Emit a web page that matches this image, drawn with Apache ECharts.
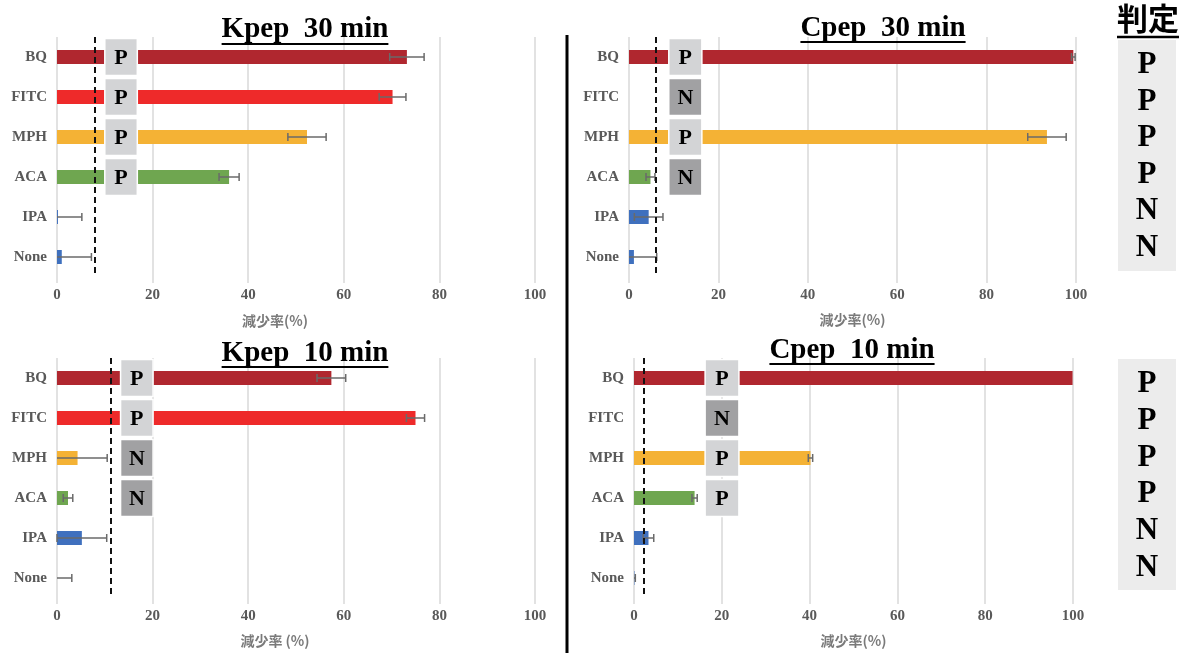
<!DOCTYPE html>
<html>
<head>
<meta charset="utf-8">
<script src="https://cdn.jsdelivr.net/npm/echarts@6/dist/echarts.min.js"></script>
<style>
  html, body { margin: 0; padding: 0; background: #ffffff; }
  #chart { width: 1183px; height: 653px; }
</style>
</head>
<body>
<div id="chart"></div>
<script>
// ---- data ----
const categories = ['BQ', 'FITC', 'MPH', 'ACA', 'IPA', 'None'];
const xTicks = [0, 20, 40, 60, 80, 100];
const axisName = ['減少率(%)', '減少率(%)', '減少率 (%)', '減少率(%)'];
const panelTitles = ['Kpep  30 min', 'Cpep  30 min', 'Kpep  10 min', 'Cpep  10 min'];

const kpep30 = [73.2, 70.2, 52.3, 36.0, 0.2, 1.0];
const kpep30Err = [3.6, 2.8, 4.0, 2.1, 5.0, 6.2];
const cpep30 = [99.4, 0, 93.5, 4.8, 4.4, 1.1];
const cpep30Err = [0.4, 0, 4.3, 1.0, 3.2, 5.1];
const kpep10 = [57.4, 75.0, 4.3, 2.3, 5.2, 0];
const kpep10Err = [3.0, 1.9, 6.2, 1.0, 5.2, 3.1];
const cpep10 = [99.9, 0, 40.2, 13.8, 3.3, 0.1];
const cpep10Err = [0, 0, 0.5, 0.6, 1.2, 0.2];

const thresholds = [8.0, 5.9, 11.3, 2.3];

const kpep30Calls = ['P', 'P', 'P', 'P'];
const cpep30Calls = ['P', 'N', 'P', 'N'];
const kpep10Calls = ['P', 'P', 'N', 'N'];
const cpep10Calls = ['P', 'N', 'P', 'P'];

const judgeLabel = '判定';
const judge30 = ['P', 'P', 'P', 'P', 'N', 'N'];
const judge10 = ['P', 'P', 'P', 'P', 'N', 'N'];

// ---- styling / layout ----
const catColors = ['#B0272F', '#EE2A2A', '#F4B235', '#6FA650', '#3F70BE', '#3F70BE'];
const SERIF = '"Liberation Serif", "Times New Roman", serif';
const CJK = '"Noto Sans CJK JP", "Noto Sans CJK SC", sans-serif';

const panels = [
  { values: kpep30, errs: kpep30Err, calls: kpep30Calls },
  { values: cpep30, errs: cpep30Err, calls: cpep30Calls },
  { values: kpep10, errs: kpep10Err, calls: kpep10Calls },
  { values: cpep10, errs: cpep10Err, calls: cpep10Calls }
];

const layout = [
  { grid: { left: 57, top: 37, width: 478, height: 240 }, box: [10.0, 16.8], titleX: 305, titleY: 30, underY: 44, nameGap: 37, namePad: [0, 42, 0, 0] },
  { grid: { left: 629, top: 37, width: 447, height: 240 }, box: [8.9, 16.3], titleX: 883, titleY: 29, underY: 42, nameGap: 36, namePad: [0, 0, 0, 0] },
  { grid: { left: 57, top: 358, width: 478, height: 240 }, box: [13.3, 20.1], titleX: 305, titleY: 354, underY: 367, nameGap: 36, namePad: [0, 42, 0, 0] },
  { grid: { left: 634, top: 358, width: 439, height: 240 }, box: [16.2, 23.9], titleX: 852, titleY: 351, underY: 364, nameGap: 36, namePad: [0, 0, 0, 0] }
];

// text width helper for the underlines
const measureCtx = document.createElement('canvas').getContext('2d');
function textWidth(text, font) {
  measureCtx.font = font;
  return measureCtx.measureText(text).width;
}

const grids = [], xAxes = [], yAxes = [], series = [], graphics = [];

panels.forEach((p, i) => {
  const L = layout[i];
  grids.push(Object.assign({ containLabel: false }, L.grid));

  xAxes.push({
    type: 'value', gridIndex: i, min: xTicks[0], max: xTicks[xTicks.length - 1], interval: 20,
    axisLine: { show: false },
    axisTick: { show: true, length: 6, lineStyle: { color: '#d9d9d9', width: 1.5 } },
    splitLine: { show: true, lineStyle: { color: '#d9d9d9', width: 1.5 } },
    axisLabel: { color: '#595959', fontFamily: SERIF, fontWeight: 'bold', fontSize: 15, margin: 11 },
    name: axisName[i], nameLocation: 'middle', nameGap: L.nameGap,
    nameTextStyle: { color: '#7a7a7a', fontFamily: CJK, fontWeight: 'bold', fontSize: 14, padding: L.namePad }
  });

  yAxes.push({
    type: 'category', gridIndex: i, data: categories, inverse: true,
    axisLine: { show: false }, axisTick: { show: false },
    axisLabel: { color: '#595959', fontFamily: SERIF, fontWeight: 'bold', fontSize: 15, margin: 10 }
  });

  // bars
  series.push({
    type: 'bar', xAxisIndex: i, yAxisIndex: i, barWidth: 14, z: 2,
    data: p.values.map((v, k) => ({ value: v, itemStyle: { color: catColors[k] } })),
    markLine: {
      silent: true, symbol: 'none', z: 6,
      label: { show: false },
      lineStyle: { color: '#111111', type: [6, 4], width: 2 },
      data: [{ xAxis: thresholds[i] }]
    }
  });

  // error bars (clipped at the axis minimum)
  series.push({
    type: 'custom', xAxisIndex: i, yAxisIndex: i, z: 3,
    encode: { y: 0, x: 1 },
    data: p.values.map((v, k) => [k, v, p.errs[k]]),
    renderItem: (params, api) => {
      const ci = api.value(0), v = api.value(1), e = api.value(2);
      if (!e) return null;
      const lo = Math.max(0, v - e), hi = v + e;
      const a = api.coord([lo, ci]), b = api.coord([hi, ci]);
      const cap = 4;
      const st = { stroke: '#6a6a6a', lineWidth: 1.5 };
      const children = [
        { type: 'line', shape: { x1: a[0], y1: a[1], x2: b[0], y2: b[1] }, style: st },
        { type: 'line', shape: { x1: b[0], y1: b[1] - cap, x2: b[0], y2: b[1] + cap }, style: st }
      ];
      if (v - e >= 0) {
        children.push({ type: 'line', shape: { x1: a[0], y1: a[1] - cap, x2: a[0], y2: a[1] + cap }, style: st });
      }
      return { type: 'group', children };
    }
  });

  // P / N call boxes
  series.push({
    type: 'custom', xAxisIndex: i, yAxisIndex: i, z: 5,
    encode: { y: 0, x: 1 },
    data: p.calls.map((c, k) => [k, L.box[0]]),
    renderItem: (params, api) => {
      const ci = api.value(0);
      const call = p.calls[ci];
      const a = api.coord([L.box[0], ci]), b = api.coord([L.box[1], ci]);
      const h = 37;
      return {
        type: 'group', children: [
          { type: 'rect', shape: { x: a[0], y: a[1] - h / 2, width: b[0] - a[0], height: h },
            style: { fill: call === 'P' ? '#d3d4d6' : '#a1a1a3', stroke: '#ffffff', lineWidth: 1.5 } },
          { type: 'text', style: { text: call, x: (a[0] + b[0]) / 2, y: a[1] + 1, align: 'center', verticalAlign: 'middle',
            font: 'bold 22px ' + SERIF, fill: '#000000' } }
        ]
      };
    }
  });

  // panel title with underline
  const tFont = 'bold 29px ' + SERIF;
  const w = textWidth(panelTitles[i], tFont);
  graphics.push({
    type: 'text', z: 10, x: L.titleX, y: L.titleY,
    style: { text: panelTitles[i], font: tFont, fill: '#000000', align: 'center', verticalAlign: 'middle' }
  });
  graphics.push({
    type: 'line', z: 10,
    shape: { x1: L.titleX - w / 2, y1: L.underY, x2: L.titleX + w / 2, y2: L.underY },
    style: { stroke: '#000000', lineWidth: 2 }
  });
});

// separator between the two columns
graphics.push({ type: 'line', z: 10, shape: { x1: 567, y1: 35, x2: 567, y2: 653 }, style: { stroke: '#000000', lineWidth: 3 } });

// judgement column
const jFont = 'bold 31px ' + CJK;
const jw = textWidth(judgeLabel, jFont);
graphics.push({ type: 'text', z: 10, x: 1148, y: 18, style: { text: judgeLabel, font: jFont, fill: '#000000', align: 'center', verticalAlign: 'middle' } });
graphics.push({ type: 'line', z: 10, shape: { x1: 1148 - jw / 2, y1: 37, x2: 1148 + jw / 2, y2: 37 }, style: { stroke: '#000000', lineWidth: 2.5 } });

function judgeColumn(list, top, step) {
  graphics.push({ type: 'rect', z: 1, shape: { x: 1118, y: top, width: 58, height: 231 }, style: { fill: '#ececec' } });
  list.forEach((c, k) => {
    graphics.push({
      type: 'text', z: 10, x: 1147, y: top + 25 + k * step,
      style: { text: c, font: 'bold 31px ' + SERIF, fill: '#000000', align: 'center', verticalAlign: 'middle' }
    });
  });
}
judgeColumn(judge30, 40, 36.5);
judgeColumn(judge10, 359, 36.8);

const chart = echarts.init(document.getElementById('chart'), null, { renderer: 'canvas' });
chart.setOption({
  animation: false,
  backgroundColor: '#ffffff',
  grid: grids,
  xAxis: xAxes,
  yAxis: yAxes,
  series: series,
  graphic: graphics
});
</script>
</body>
</html>
